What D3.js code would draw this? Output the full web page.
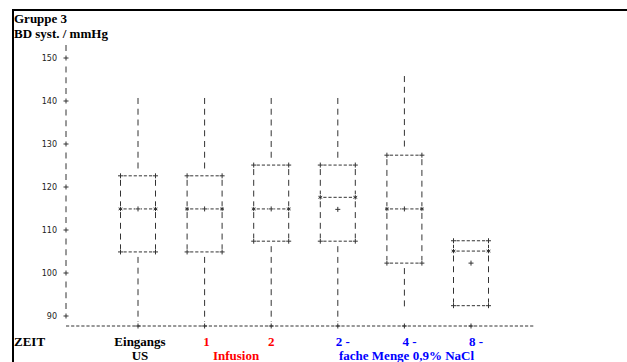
<!DOCTYPE html>
<html>
<head>
<meta charset="utf-8">
<title>Gruppe 3 - BD syst.</title>
<style>
  body { margin: 0; background: #fff; }
  .serif { font-family: 'Liberation Serif', 'Times New Roman', serif; font-weight: bold; font-size: 13px; }
  .tick { font-family: 'DejaVu Sans', sans-serif; font-size: 8px; fill: #222; }
</style>
</head>
<body>
<div id="chart"></div>
<script src="https://cdn.jsdelivr.net/npm/d3@7"></script>
<script>
var width = 627, height = 362;

// values (mmHg)
var categories = ["Eingangs US", "1", "2", "2 -", "4 -", "8 -"];
var whiskerHigh = [140.7, 140.7, 140.7, 140.7, 145.8, 107.5];
var q3 = [122.6, 122.6, 125.1, 125.1, 127.4, 107.5];
var median = [114.9, 114.9, 114.9, 117.6, 114.9, 105.1];
var mean = [114.9, 114.9, 114.9, 114.8, 114.9, 102.3];
var q1 = [104.9, 104.9, 107.4, 107.4, 102.3, 92.4];
var whiskerLow = [87.7, 87.7, 87.7, 87.7, 91.9, 92.4];
var yTicks = [90, 100, 110, 120, 130, 140, 150];

var ink = "#333";
var vDash = "6,4.75", hDash = "3.2,1.9";

var y = d3.scaleLinear().domain([90, 150]).range([316, 58]);
var x = d3.scalePoint().domain(categories).range([138, 471]);
var halfBox = 17.5;

var svg = d3.select("#chart").append("svg")
  .attr("width", width).attr("height", height);

// frame
svg.append("line").attr("x1", 12).attr("x2", width).attr("y1", 10).attr("y2", 10)
  .attr("stroke", "#000").attr("stroke-width", 2);
svg.append("line").attr("x1", 13).attr("x2", 13).attr("y1", 9).attr("y2", height)
  .attr("stroke", "#000").attr("stroke-width", 2);

// titles
svg.append("text").attr("class", "serif").attr("x", 14).attr("y", 23).text("Gruppe 3");
svg.append("text").attr("class", "serif").attr("x", 14).attr("y", 38).text("BD syst. / mmHg");

function plus(g, cx, cy) {
  g.append("path")
    .attr("d", "M" + (cx - 2.5) + "," + cy + "H" + (cx + 2.5) + "M" + cx + "," + (cy - 2.5) + "V" + (cy + 2.5))
    .attr("stroke", ink).attr("stroke-width", 1).attr("fill", "none");
}
function star(g, cx, cy) {
  // small asterisk: vertical stroke plus two diagonals
  var r = 2.2, dx = 1.9, dy = 1.1;
  g.append("path")
    .attr("d", "M" + cx + "," + (cy - r) + "V" + (cy + r) +
      "M" + (cx - dx) + "," + (cy - dy) + "L" + (cx + dx) + "," + (cy + dy) +
      "M" + (cx - dx) + "," + (cy + dy) + "L" + (cx + dx) + "," + (cy - dy))
    .attr("stroke", "#222").attr("stroke-width", 0.9).attr("fill", "none");
}
function vline(g, xx, y1, y2) {
  g.append("line").attr("x1", xx).attr("x2", xx).attr("y1", y1).attr("y2", y2)
    .attr("stroke", ink).attr("stroke-width", 1).attr("stroke-dasharray", vDash);
}
function hline(g, x1, x2, yy) {
  g.append("line").attr("x1", x1).attr("x2", x2).attr("y1", yy).attr("y2", yy)
    .attr("stroke", ink).attr("stroke-width", 1).attr("stroke-dasharray", hDash);
}

// y axis
var axis = svg.append("g");
vline(axis, 66, 45, 312);
yTicks.forEach(function(t) {
  axis.append("rect").attr("x", 64).attr("y", y(t) - 4).attr("width", 4).attr("height", 8).attr("fill", "#fff");
  plus(axis, 66, y(t));
  axis.append("text").attr("class", "tick").attr("x", 57).attr("y", y(t) + 3)
    .attr("text-anchor", "end").text(t);
});

// x baseline
var base = svg.append("g");
hline(base, 66, 534, 326);
categories.forEach(function(c) { plus(base, x(c), 326); });

// boxes
categories.forEach(function(c, i) {
  var g = svg.append("g");
  var cx = x(c), l = cx - halfBox, r = cx + halfBox;
  var yT = y(q3[i]), yB = y(q1[i]), yM = y(median[i]);
  if (whiskerHigh[i] > q3[i] + 1) vline(g, cx, y(whiskerHigh[i]), yT - 5);
  if (whiskerLow[i] < q1[i] - 1) vline(g, cx, yB + 5, Math.min(y(whiskerLow[i]), 322));
  vline(g, l, yT + 4, yB - 3);
  vline(g, r, yT + 4, yB - 3);
  hline(g, l + 3, r - 3, yT);
  hline(g, l + 3, r - 3, yB);
  hline(g, l + 3, r - 3, yM);
  plus(g, l, yT); plus(g, r, yT);
  plus(g, l, yB); plus(g, r, yB);
  g.append("rect").attr("x", l - 2.5).attr("y", yM - 3).attr("width", 5).attr("height", 6).attr("fill", "#fff");
  g.append("rect").attr("x", r - 2.5).attr("y", yM - 3).attr("width", 5).attr("height", 6).attr("fill", "#fff");
  star(g, l, yM); star(g, r, yM);
  g.append("rect").attr("x", cx - 3).attr("y", y(mean[i]) - 3).attr("width", 6).attr("height", 6).attr("fill", "#fff");
  plus(g, cx, y(mean[i]));
});

// x labels
var lab = svg.append("g").attr("class", "serif");
lab.append("text").attr("x", 14).attr("y", 346).attr("fill", "#000").text("ZEIT");
lab.append("text").attr("x", x("Eingangs US") + 2).attr("y", 346).attr("text-anchor", "middle").text("Eingangs");
lab.append("text").attr("x", x("Eingangs US") + 2).attr("y", 360).attr("text-anchor", "middle").text("US");
lab.append("text").attr("x", x("1") + 2).attr("y", 346).attr("text-anchor", "middle").attr("fill", "#f00").text("1");
lab.append("text").attr("x", x("2")).attr("y", 346).attr("text-anchor", "middle").attr("fill", "#f00").text("2");
lab.append("text").attr("x", 236).attr("y", 360).attr("text-anchor", "middle").attr("fill", "#f00").text("Infusion");
["2 -", "4 -", "8 -"].forEach(function(c) {
  lab.append("text").attr("x", x(c) - 2).attr("y", 346).attr("fill", "#00f").text(c);
});
lab.append("text").attr("x", 339).attr("y", 360).attr("fill", "#00f").text("fache Menge 0,9% NaCl");
</script>
</body>
</html>
